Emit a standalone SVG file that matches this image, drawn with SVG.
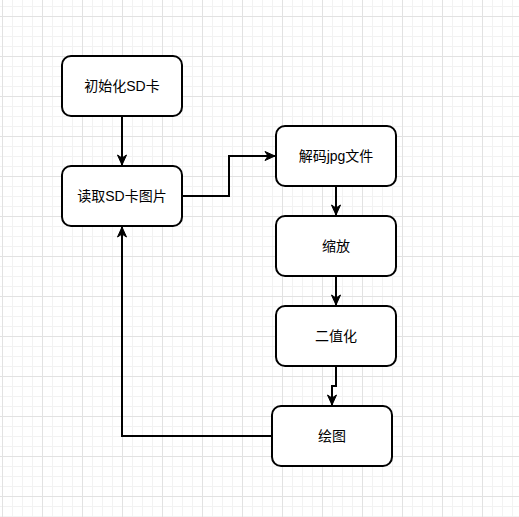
<svg xmlns="http://www.w3.org/2000/svg" width="519" height="517" viewBox="0 0 519 517">
  <style>
    .node rect { fill: #ffffff; stroke: #000000; stroke-width: 2; }
    .node text { font-family: "Liberation Sans", "Noto Sans CJK SC", sans-serif; font-size: 14px; fill: #000000; text-anchor: middle; }
    .edge { fill: none; stroke: #000000; stroke-width: 2; marker-end: url(#arrow); }
  </style>
  <defs>
    <pattern id="minor" x="2" y="6" width="10" height="10" patternUnits="userSpaceOnUse">
      <rect x="0" y="0" width="1" height="10" fill="#f2f2f2"/>
      <rect x="0" y="0" width="10" height="1" fill="#f2f2f2"/>
    </pattern>
    <pattern id="major" x="2" y="16" width="40" height="40" patternUnits="userSpaceOnUse">
      <rect x="0" y="0" width="1" height="40" fill="#e2e2e2"/>
      <rect x="0" y="0" width="40" height="1" fill="#e2e2e2"/>
    </pattern>
    <marker id="arrow" markerUnits="userSpaceOnUse" markerWidth="12" markerHeight="12" viewBox="-11 -6 12 12" refX="0" refY="0" orient="auto">
      <path d="M0,0 L-10,-4.5 L-7,0 L-10,4.5 Z" fill="#000000" stroke="#000000" stroke-width="1" stroke-linejoin="miter"/>
    </marker>
  </defs>
  <rect x="0" y="0" width="519" height="517" fill="#ffffff"/>
  <rect x="0" y="0" width="519" height="517" fill="url(#minor)"/>
  <rect x="0" y="0" width="519" height="517" fill="url(#major)"/>

  <g id="connectors">
    <path class="edge" d="M122,116 L122,165"/>
    <path class="edge" d="M182,196 L229,196 L229,156 L275,156"/>
    <path class="edge" d="M336,186 L336,215"/>
    <path class="edge" d="M336,276 L336,305"/>
    <path class="edge" d="M336,366 L336,386 L332,386 L332,405"/>
    <path class="edge" d="M272,436 L122,436 L122,227"/>
  </g>

  <g id="node-init" class="node">
    <rect x="62" y="56" width="120" height="60" rx="9" ry="9"/>
    <text x="122" y="91">初始化SD卡</text>
  </g>
  <g id="node-read" class="node">
    <rect x="62" y="166" width="120" height="60" rx="9" ry="9"/>
    <text x="122" y="201">读取SD卡图片</text>
  </g>
  <g id="node-decode" class="node">
    <rect x="276" y="126" width="120" height="60" rx="9" ry="9"/>
    <text x="336" y="161">解码jpg文件</text>
  </g>
  <g id="node-scale" class="node">
    <rect x="276" y="216" width="120" height="60" rx="9" ry="9"/>
    <text x="336" y="251">缩放</text>
  </g>
  <g id="node-binarize" class="node">
    <rect x="276" y="306" width="120" height="60" rx="9" ry="9"/>
    <text x="336" y="341">二值化</text>
  </g>
  <g id="node-draw" class="node">
    <rect x="272" y="406" width="120" height="60" rx="9" ry="9"/>
    <text x="332" y="441">绘图</text>
  </g>
</svg>
